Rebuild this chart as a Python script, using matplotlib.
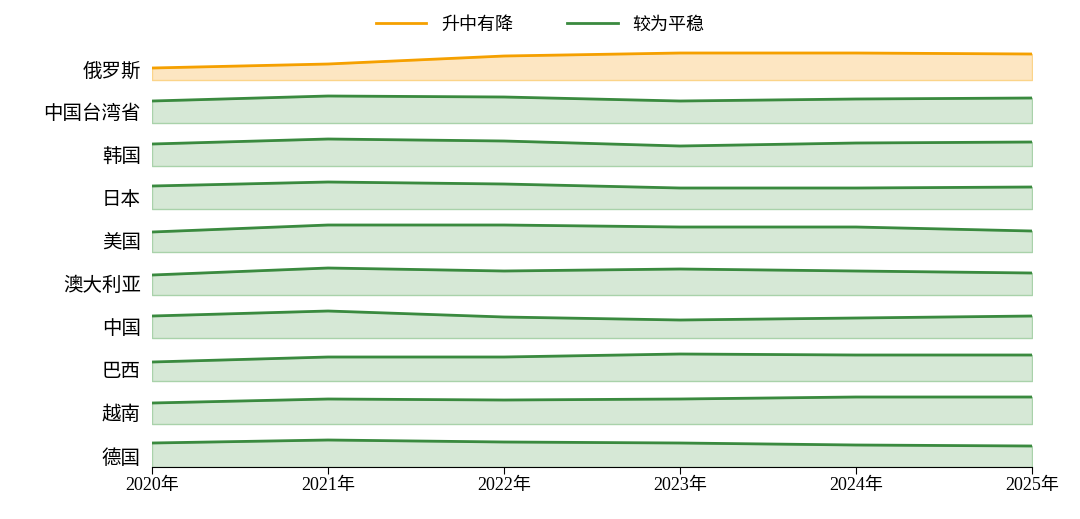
import matplotlib
matplotlib.use("Agg")
import matplotlib.pyplot as plt
from matplotlib.lines import Line2D

plt.rcParams['font.family'] = ['Liberation Serif', 'Noto Sans CJK SC', 'DejaVu Sans']

years = ["2020年", "2021年", "2022年", "2023年", "2024年", "2025年"]
countries = ["俄罗斯", "中国台湾省", "韩国", "日本", "美国", "澳大利亚", "中国", "巴西", "越南", "德国"]
groups = ["升中有降", "较为平稳", "较为平稳", "较为平稳", "较为平稳", "较为平稳", "较为平稳", "较为平稳", "较为平稳", "较为平稳"]
# relative index values per country (row height units)
values = [
    [12, 16, 24, 27, 27, 26],
    [22, 27, 26, 22, 24, 25],
    [22, 27, 25, 20, 23, 24],
    [23, 27, 25, 21, 21, 22],
    [20, 27, 27, 25, 25, 21],
    [20, 27, 24, 26, 24, 22],
    [22, 27, 21, 18, 20, 22],
    [19, 24, 24, 27, 26, 26],
    [21, 25, 24, 25, 27, 27],
    [24, 27, 25, 24, 22, 21],
]
styles = {"升中有降": ("#f5a000", "#fde6c2", "#fbd48a"),
          "较为平稳": ("#3a8a3f", "#d6e8d6", "#a9d2aa")}

fig = plt.figure(figsize=(10.8, 5.19), dpi=100)
ax = fig.add_axes([152/1080, 1-467/519, 880/1080, 430/519])
n = len(countries)
x = list(range(len(years)))
for i, (c, g, v) in enumerate(zip(countries, groups, values)):
    base = n - 1 - i
    line, fill, edge = styles[g]
    y = [base + val / 43 for val in v]
    ax.fill_between(x, base, y, facecolor=fill, edgecolor=edge, linewidth=1)
    ax.plot(x, y, color=line, lw=2)
ax.set_xlim(0, len(years) - 1)
ax.set_ylim(0, n)
ax.set_xticks(x)
ax.set_xticklabels(years, fontsize=13)
ax.set_yticks([n - 1 - i + 0.25 for i in range(n)])
ax.set_yticklabels(countries, fontsize=14)
ax.tick_params(axis='y', length=0, pad=8)
ax.tick_params(axis='x', length=5, pad=2)
for s in ['top', 'right', 'left']:
    ax.spines[s].set_visible(False)
handles = [Line2D([], [], color=styles[k][0], lw=2) for k in ["升中有降", "较为平稳"]]
fig.legend(handles, ["升中有降", "较为平稳"], loc='center', bbox_to_anchor=(0.5, 1-25/519),
           ncol=2, frameon=False, fontsize=13, handlelength=2.8, columnspacing=3)
fig.savefig("out.png", dpi=100)
